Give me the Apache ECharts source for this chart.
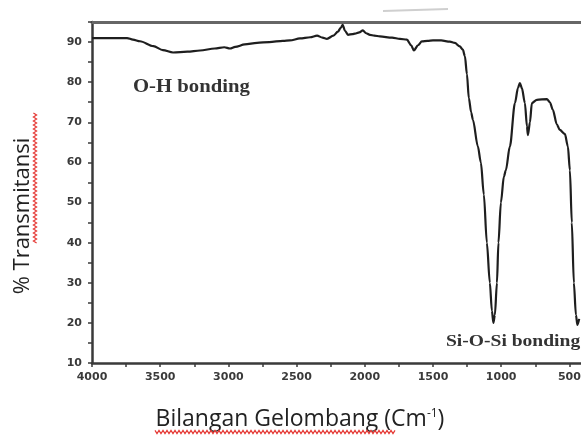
<!DOCTYPE html>
<html>
<head>
<meta charset="utf-8">
<script src="https://cdn.jsdelivr.net/npm/echarts@6/dist/echarts.min.js"></script>
<style>
html,body{margin:0;padding:0;background:#fff;}
#chart{width:581px;height:436px;}
</style>
</head>
<body>
<div id="chart"></div>
<script>
// Wavenumber (cm-1) and % transmittance
const wavenumber = [4000,3900,3800,3743,3700,3648,3550,3480,3406,3300,3208,3100,3030,2988,2950,2880,2790,2700,2600,2549,2475,2400,2350,2310,2277,2230,2197,2175,2162,2145,2123,2090,2072,2040,2014,1990,1962,1930,1889,1800,1742,1691,1660,1640,1610,1581,1540,1500,1440,1376,1340,1303,1281,1266,1251,1237,1220,1207,1171,1149,1127,1105,1083,1068,1057,1046,1031,1020,1002,980,966,936,899,877,863,848,826,811,804,789,775,738,665,643,621,592,570,533,511,496,482,467,452,441,428];
const transmittance = [91.0,91.0,91.0,91.0,90.6,90.2,89.0,88.0,87.4,87.6,87.9,88.4,88.7,88.4,88.8,89.4,89.8,90.0,90.3,90.4,90.9,91.2,91.6,91.1,90.8,91.6,92.6,93.6,94.3,92.8,91.8,92.0,92.1,92.4,92.9,92.2,91.8,91.6,91.4,91.1,90.8,90.6,89.2,87.9,89.2,90.15,90.3,90.4,90.4,90.1,89.8,88.9,88.1,86.5,82.0,76.0,72.5,70.6,64.0,60.0,52.0,40.0,30.0,23.0,20.0,22.0,30.0,40.0,50.0,56.5,58.0,64.0,74.8,78.5,79.8,78.5,74.8,69.0,66.8,70.0,74.8,75.6,75.8,75.0,73.1,69.5,68.1,67.1,64.0,58.0,45.0,30.0,22.0,19.5,21.0];
const xTickValues = [4000,3750,3500,3250,3000,2750,2500,2250,2000,1750,1500,1250,1000,750,500];
const xLabelValues = [4000,3500,3000,2500,2000,1500,1000,500];
const yLabelValues = [10,20,30,40,50,60,70,80,90];
const annotations = ['O-H bonding','Si-O-Si bonding'];
const xTitle = 'Bilangan Gelombang (Cm{sup|-1})';
const yTitle = '% Transmitansi';

const chart = echarts.init(document.getElementById('chart'), null, {renderer:'canvas'});

function zigzag(x0, y0, len, vertical){
  const pts = [];
  for (let i = 0; i <= len; i += 2) {
    const off = ((i/2) % 2 === 0) ? -1.6 : 1.6;
    pts.push(vertical ? [x0 + off, y0 + i] : [x0 + i, y0 + off]);
  }
  return pts;
}

const axisColor = '#3a3a3a';
const labelStyle = {color:'#3a3a3a', fontSize:11, fontWeight:'bold', fontFamily:'DejaVu Sans, sans-serif'};

chart.setOption({
  animation:false,
  backgroundColor:'#fff',
  grid:{left:92, right:-2, top:22, bottom:73, containLabel:false, outerBoundsMode:'none'},
  xAxis:[{
    type:'value', min:400, max:4000, inverse:true,
    axisLine:{show:true, onZero:false, lineStyle:{color:axisColor, width:2.5}},
    axisTick:{show:true, inside:false, length:4, customValues:xTickValues, lineStyle:{color:axisColor, width:1.5}},
    axisLabel:{show:true, margin:9, customValues:xLabelValues, ...labelStyle,
      formatter:function(v){ return String(v); }},
    splitLine:{show:false}
  },{
    type:'value', position:'top', min:400, max:4000, inverse:true,
    axisLine:{show:true, lineStyle:{color:'#666', width:3}},
    axisTick:{show:false}, axisLabel:{show:false}, splitLine:{show:false}
  }],
  yAxis:{
    type:'value', min:10, max:95, interval:5,
    axisLine:{show:true, onZero:false, lineStyle:{color:axisColor, width:2.5}},
    axisTick:{show:true, inside:false, length:4, lineStyle:{color:axisColor, width:1.5}},
    axisLabel:{show:true, margin:10, ...labelStyle,
      formatter:function(v){ return yLabelValues.indexOf(v) >= 0 ? String(v) : ''; }},
    splitLine:{show:false}
  },
  series:[{
    type:'line', xAxisIndex:0,
    data: wavenumber.map((w,i)=>[w, transmittance[i]]),
    showSymbol:false, smooth:0.3, smoothMonotone:'x', clip:true,
    lineStyle:{color:'#1e1e1e', width:2.2}
  }],
  graphic:[
    {type:'text', x:133, y:87, scaleX:1.15, style:{text:annotations[0], fill:'#333', font:'bold 18px "Liberation Serif", serif', verticalAlign:'middle'}},
    {type:'text', x:446, y:342, scaleX:1.15, style:{text:annotations[1], fill:'#333', font:'bold 17px "Liberation Serif", serif', verticalAlign:'middle'}},
    {type:'text', x:300, y:419, style:{text:xTitle, fill:'#222', fontSize:23, fontFamily:'Open Sans, sans-serif',
      align:'center', verticalAlign:'middle',
      rich:{sup:{fontSize:12, fontFamily:'Open Sans, sans-serif', fill:'#222', padding:[0,0,10,0]}}}},
    {type:'text', x:23, y:216, rotation:Math.PI/2, style:{text:yTitle, fill:'#222', fontSize:22, fontFamily:'Open Sans, sans-serif',
      align:'center', verticalAlign:'middle'}},
    {type:'polyline', shape:{points:zigzag(155, 432, 240, false)}, style:{stroke:'#e53935', lineWidth:1.2, fill:null}},
    {type:'polyline', shape:{points:zigzag(35, 113, 130, true)}, style:{stroke:'#e53935', lineWidth:1.2, fill:null}},
    {type:'line', shape:{x1:383, y1:11, x2:448, y2:9}, style:{stroke:'#cfcfcf', lineWidth:2}}
  ]
});
</script>
</body>
</html>
